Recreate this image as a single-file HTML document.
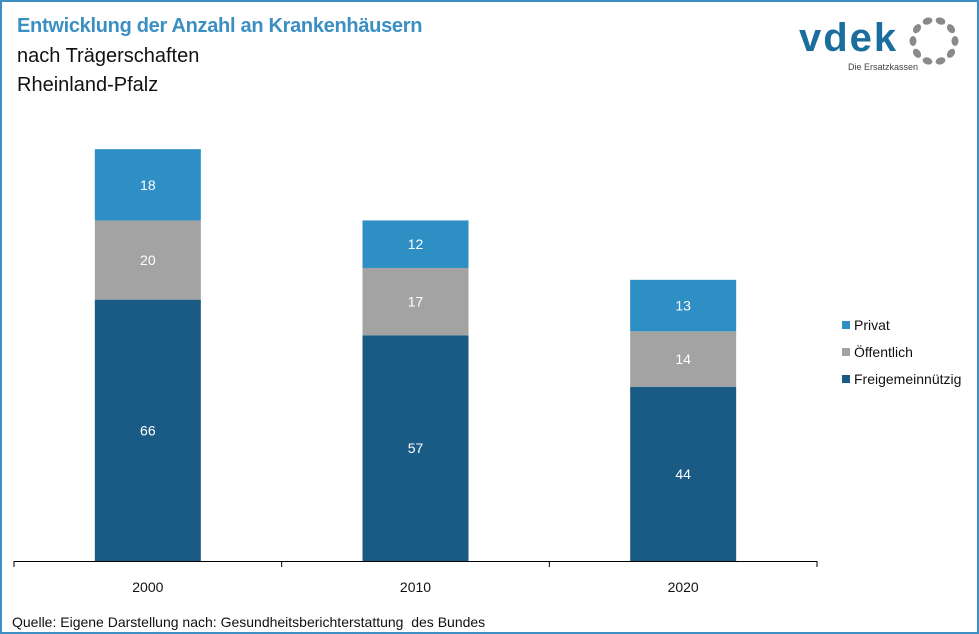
<!DOCTYPE html>
<html><head><meta charset="utf-8"><style>
body{margin:0;background:#fff}
#wrap{position:relative;width:979px;height:634px;box-sizing:border-box;border:2px solid #3b8fc2;overflow:hidden;font-family:"Liberation Sans","DejaVu Sans",sans-serif}
.t{position:absolute;white-space:nowrap}
</style></head><body>
<div id="wrap">
<div class="t" style="left:15px;top:13px;font-size:20px;color:#3b8fc2;font-weight:bold;letter-spacing:-0.3px">Entwicklung der Anzahl an Krankenhäusern</div>
<div class="t" style="left:15px;top:43px;font-size:20px;color:#111">nach Trägerschaften</div>
<div class="t" style="left:15px;top:72px;font-size:20px;color:#111">Rheinland-Pfalz</div>
<div class="t" style="left:797px;top:14px;font-size:40px;font-weight:bold;color:#1a6e9e;letter-spacing:2px">vdek</div>
<div class="t" style="left:846px;top:60px;font-size:9px;color:#444">Die Ersatzkassen</div>
<svg id="logo" class="t" style="left:905px;top:12px" width="54" height="54"></svg>
<svg id="chart" width="975" height="630" style="position:absolute;left:0;top:0"></svg>
<div class="t" style="left:10px;top:612px;font-size:14px;color:#111">Quelle: Eigene Darstellung nach: Gesundheitsberichterstattung&nbsp; des Bundes</div>
</div>
<script>
const categories=["2000","2010","2020"];
const freigemein=[66,57,44];
const oeffentlich=[20,17,14];
const privat=[18,12,13];
const seriesNames=["Privat","Öffentlich","Freigemeinnützig"];
const NS="http://www.w3.org/2000/svg";
const svg=document.getElementById('chart');
function mk(t,a){const e=document.createElementNS(NS,t);for(const k in a)e.setAttribute(k,a[k]);svg.appendChild(e);return e;}
const base=559, pxPer=3.96, x0=12, x1=815;
const step=(x1-x0)/categories.length, barW=106;
const y=v=>base-v*pxPer;
const xc=i=>x0+step*(i+0.5);
const colors=["#1a5b86","#a3a3a3","#2e8fc4"];
const series=[freigemein,oeffentlich,privat];
const sNames=["freigemeinnuetzig","oeffentlich","privat"];
categories.forEach((c,i)=>{
  let acc=0;
  series.forEach((s,j)=>{
    const v=s[i];
    const r=mk('rect',{x:xc(i)-barW/2,y:y(acc+v),width:barW,height:v*pxPer,fill:colors[j]});
    
    
    const t=mk('text',{x:xc(i),y:y(acc+v/2)+5,'text-anchor':'middle','font-size':14,fill:'#fff','font-family':'Liberation Sans, sans-serif'});
    t.textContent=v;
    
    
    acc+=v;
  });
  const l=mk('text',{x:xc(i),y:590,'text-anchor':'middle','font-size':14,fill:'#111','font-family':'Liberation Sans, sans-serif'});
  l.textContent=c;
  
  
});
const ax=mk('line',{x1:x0,x2:x1,y1:base+0.5,y2:base+0.5,stroke:'#000','stroke-width':1});


for(let i=0;i<=categories.length;i++){
  const tk=mk('line',{x1:x0+step*i,x2:x0+step*i,y1:base,y2:base+6,stroke:'#000'});
  
  
}
const legColors=["#2e8fc4","#a3a3a3","#1a5b86"];
seriesNames.forEach((n,k)=>{
  const yy=319+k*27;
  const r=mk('rect',{x:840,y:yy,width:8,height:8,fill:legColors[k]});
  
  
  const t=mk('text',{x:852,y:yy+9,'font-size':14,fill:'#111','font-family':'Liberation Sans, sans-serif'});
  t.textContent=n;
  
  
});
const lg=document.getElementById('logo');
for(let k=0;k<10;k++){
  const a=k/10*2*Math.PI;
  const c=document.createElementNS(NS,'ellipse');
  c.setAttribute('cx',27+21*Math.cos(a));c.setAttribute('cy',27+21*Math.sin(a));
  c.setAttribute('rx',5);c.setAttribute('ry',3.5);c.setAttribute('fill','#8a8a8a');
  c.setAttribute('transform','rotate('+(a*180/Math.PI+90)+' '+(27+21*Math.cos(a))+' '+(27+21*Math.sin(a))+')');
  lg.appendChild(c);
}
</script>
</body></html>
